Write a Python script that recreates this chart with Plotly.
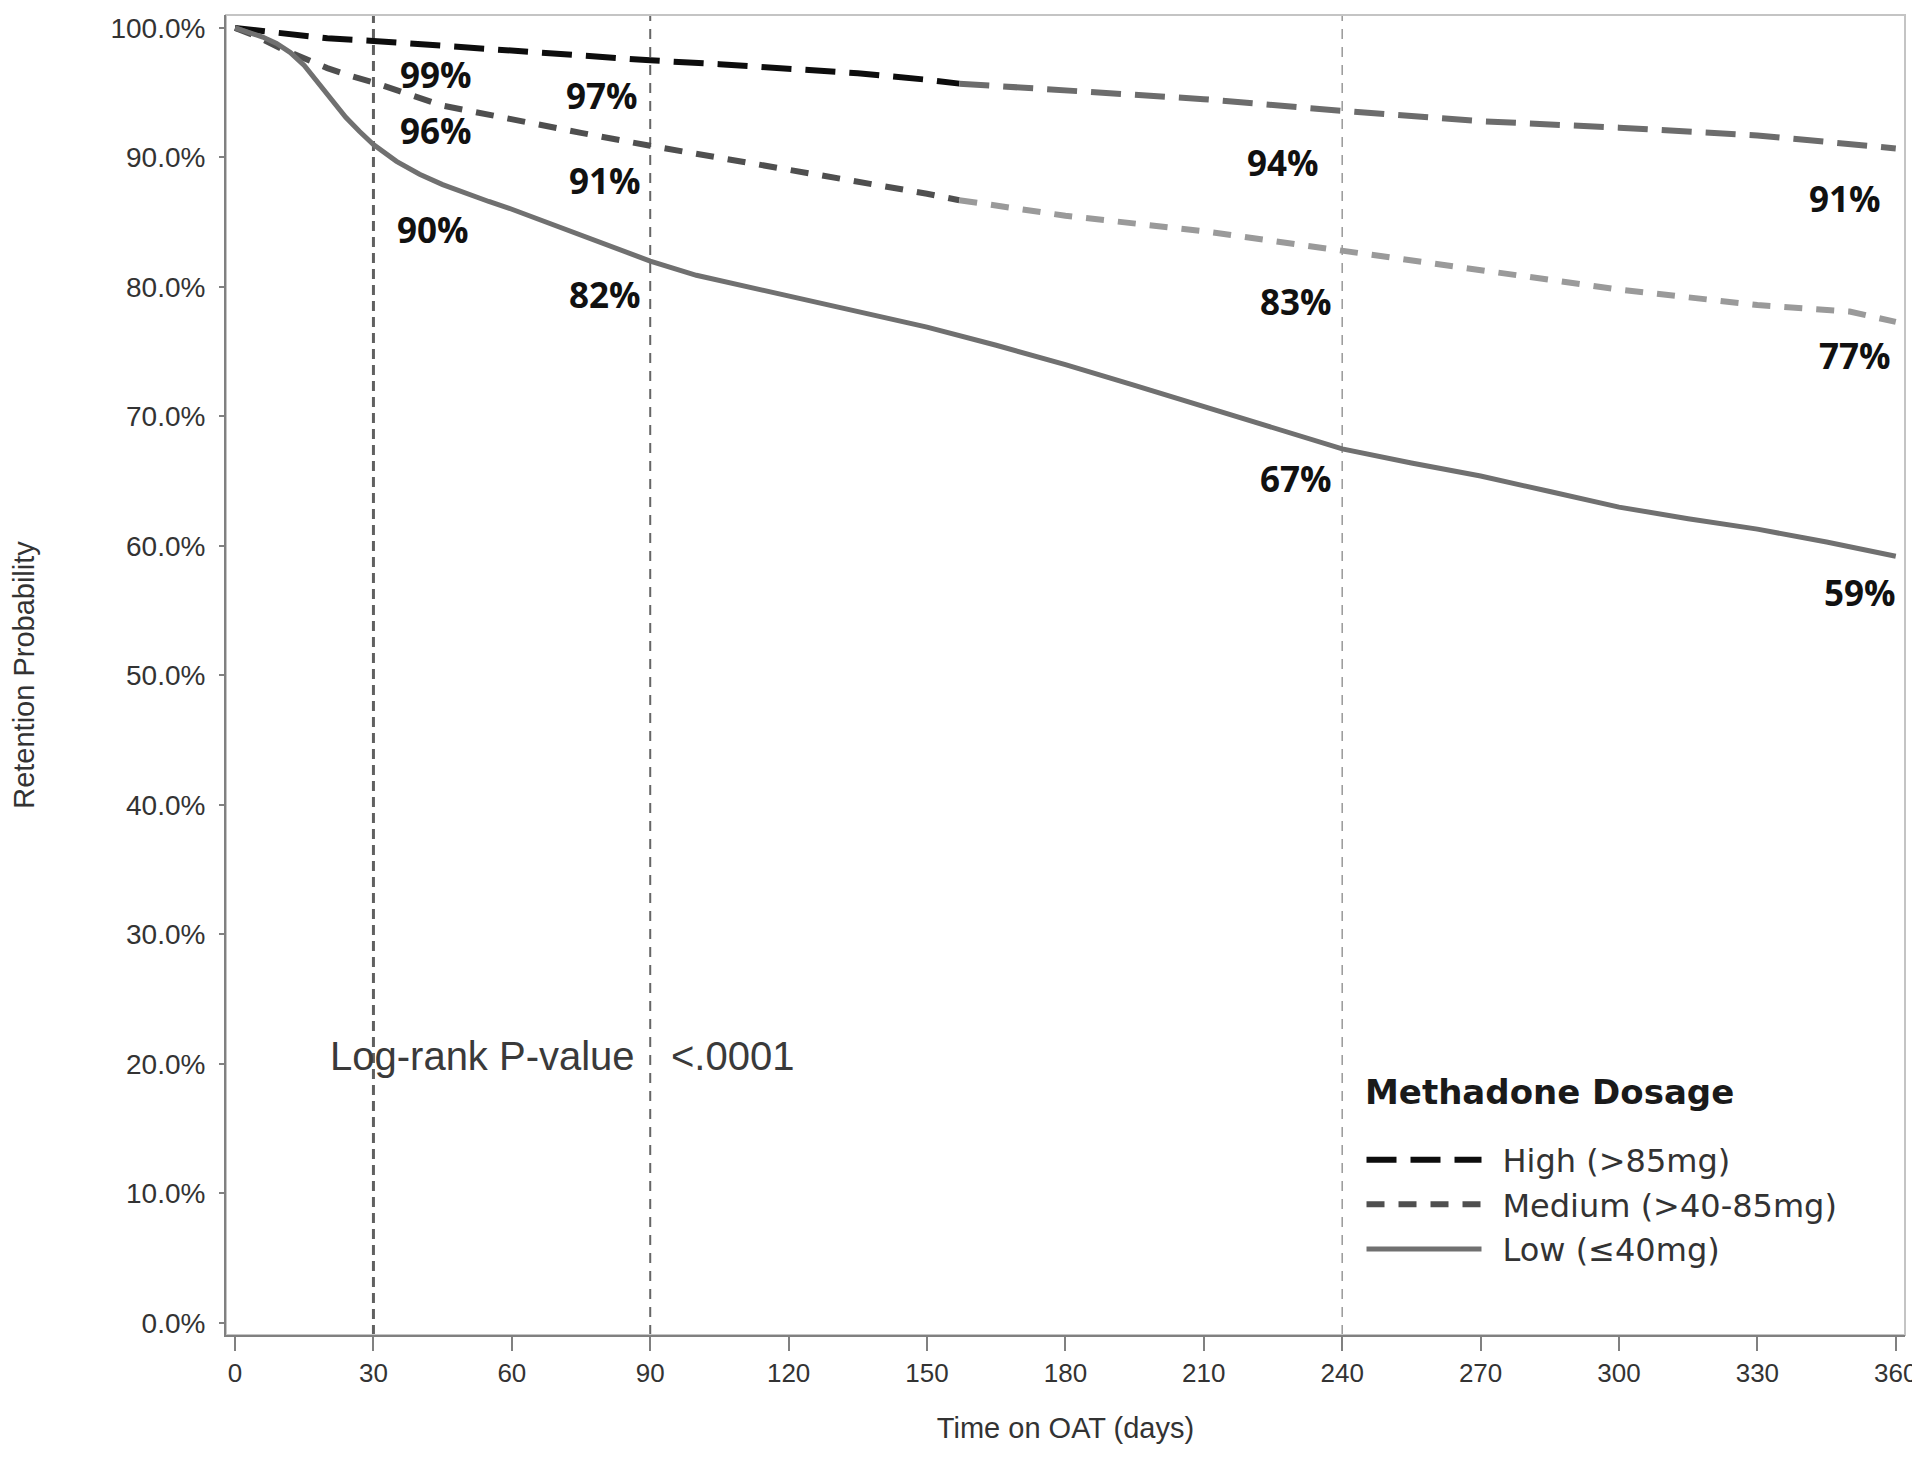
import plotly.graph_objects as go

# ---------------- data ----------------
high_days = [0, 10, 20, 30, 45, 60, 75, 90, 105, 120, 135, 150, 157, 180, 210, 240, 270, 300, 330, 360]
high_surv = [100, 99.6, 99.2, 99.0, 98.6, 98.2, 97.8, 97.5, 97.2, 96.9, 96.5, 96.0, 95.7, 95.2, 94.5, 93.6, 92.8, 92.3, 91.7, 90.7]

medium_days = [0, 5, 10, 15, 20, 25, 30, 45, 60, 75, 90, 105, 120, 135, 150, 157, 180, 210, 240, 270, 300, 330, 350, 360]
medium_surv = [100, 99.3, 98.4, 97.6, 96.9, 96.3, 95.8, 94.0, 92.9, 91.9, 90.9, 90.0, 89.1, 88.2, 87.2, 86.7, 85.5, 84.3, 82.8, 81.3, 79.8, 78.6, 78.1, 77.3]

low_days = [0, 3, 6, 9, 12, 15, 18, 21, 24, 27, 30, 35, 40, 45, 50, 55, 60, 70, 80, 90, 100, 110, 120,
            135, 150, 165, 180, 195, 210, 225, 240, 255, 270, 285, 300, 315, 330, 345, 360]
low_surv = [100, 99.7, 99.3, 98.8, 98.1, 97.1, 95.8, 94.4, 93.1, 92.0, 91.0, 89.7, 88.7, 87.9, 87.2, 86.6, 86.0, 84.7, 83.3, 82.0, 80.9, 80.1, 79.3,
            78.1, 76.9, 75.5, 74.0, 72.4, 70.8, 69.1, 67.5, 66.4, 65.4, 64.2, 63.0, 62.1, 61.3, 60.3, 59.2]

series_names = ["High (>85mg)", "Medium (>40-85mg)", "Low (≤40mg)"]
legend_title = "Methadone Dosage"

ref_days = [30, 90, 240]

# milestone labels
label_texts = ["99%", "97%", "94%", "91%",
               "96%", "91%", "83%", "77%",
               "90%", "82%", "67%", "59%"]
label_x = [43.5, 79.6, 227.2, 349.1,
           43.5, 80.2, 229.9, 351.2,
           43.0, 80.2, 229.9, 352.3]
label_y = [96.4, 94.8, 89.6, 86.8,
           92.1, 88.2, 78.9, 74.7,
           84.4, 79.4, 65.2, 56.4]

pvalue_label = "Log-rank P-value"
pvalue_text = "<.0001"

x_ticks = list(range(0, 361, 30))
y_ticks = list(range(0, 101, 10))
y_ticktext = [f"{v:.1f}%" for v in y_ticks]

# ---------------- styles ----------------
split_day = 157  # rendering colour change in the reference
styles = [
    dict(c1="#0d0d0d", c2="#6c6c6c", dash="30px,14px", width=6),
    dict(c1="#4f4f4f", c2="#9a9a9a", dash="18px,14px", width=6),
    dict(c1="#707070", c2="#707070", dash="solid", width=5),
]
ref_styles = [
    dict(color="#606060", width=3, dash="10px,6px"),
    dict(color="#666666", width=2, dash="10px,8px"),
    dict(color="#999999", width=1.5, dash="10px,8px"),
]

FONT = "Liberation Sans, Arial, sans-serif"
GAP = "\u2002"

fig = go.Figure()

for (days, surv), name, st in zip(
        [(high_days, high_surv), (medium_days, medium_surv), (low_days, low_surv)],
        series_names, styles):
    k = days.index(split_day) if split_day in days else len(days) - 1
    fig.add_trace(go.Scatter(
        x=days[:k + 1], y=surv[:k + 1], mode="lines", name=GAP + name,
        line=dict(color=st["c1"], width=st["width"], dash=st["dash"]),
        legendgroup=name, showlegend=True, hoverinfo="skip"))
    fig.add_trace(go.Scatter(
        x=days[k:], y=surv[k:], mode="lines", name=name,
        line=dict(color=st["c2"], width=st["width"], dash=st["dash"]),
        legendgroup=name, showlegend=False, hoverinfo="skip"))

for d, st in zip(ref_days, ref_styles):
    fig.add_vline(x=d, line=st, layer="below")

# frame
fig.add_shape(type="rect", xref="paper", yref="paper", x0=0, x1=1, y0=0, y1=1,
              line=dict(color="#c4c4c4", width=2), layer="below")

for t, x, y in zip(label_texts, label_x, label_y):
    fig.add_annotation(x=x, y=y, text=f"<b>{t}</b>", showarrow=False,
                       font=dict(family="Open Sans, sans-serif", size=35, color="#111111"),
                       xanchor="center", yanchor="middle")

fig.add_annotation(x=20.2, y=20.6, text=pvalue_label, showarrow=False, xanchor="left", yanchor="middle",
                   font=dict(family=FONT, size=40, color="#3a3a3a"))
fig.add_annotation(x=94.0, y=20.6, text=pvalue_text, showarrow=False, xanchor="left", yanchor="middle",
                   font=dict(family=FONT, size=40, color="#3a3a3a"))

# legend title as text
fig.add_annotation(x=244.5, y=17.84, text=f"<b>{legend_title}</b>", showarrow=False,
                   xanchor="left", yanchor="middle",
                   font=dict(family="DejaVu Sans, sans-serif", size=34, color="#1a1a1a"))

# Page body has an 8px default margin -> compensate in figure size / margins
fig.update_layout(
    width=1912, height=1445,
    margin=dict(l=218, r=15, t=7, b=118),
    paper_bgcolor="white", plot_bgcolor="white",
    font=dict(family=FONT, color="#333333"),
    legend=dict(
        x=0.6763, y=0.1535, xanchor="left", yanchor="top",
        font=dict(family="DejaVu Sans, sans-serif", size=32, color="#333333"),
        itemwidth=115, bgcolor="rgba(0,0,0,0)", borderwidth=0, tracegroupgap=0,
    ),
    xaxis=dict(
        range=[-1.96, 362], tickvals=x_ticks, ticks="outside", ticklen=14, tickwidth=2,
        tickcolor="#808080", showline=True, linecolor="#808080", linewidth=2,
        showgrid=False, zeroline=False, automargin=False,
        tickfont=dict(family=FONT, size=26, color="#333333"),
        title=dict(text="Time on OAT (days)", font=dict(family=FONT, size=29, color="#333333"), standoff=30),
    ),
    yaxis=dict(
        range=[-0.93, 101.0], tickvals=y_ticks, ticktext=y_ticktext,
        ticks="outside", ticklen=5, tickwidth=2, tickcolor="#808080",
        showline=True, linecolor="#808080", linewidth=2,
        showgrid=False, zeroline=False, ticklabelstandoff=8, automargin=False,
        tickfont=dict(family=FONT, size=28, color="#333333"),
        title=dict(text="Retention Probability", font=dict(family=FONT, size=29, color="#333333"), standoff=76),
    ),
)

fig.write_html("out.html")
